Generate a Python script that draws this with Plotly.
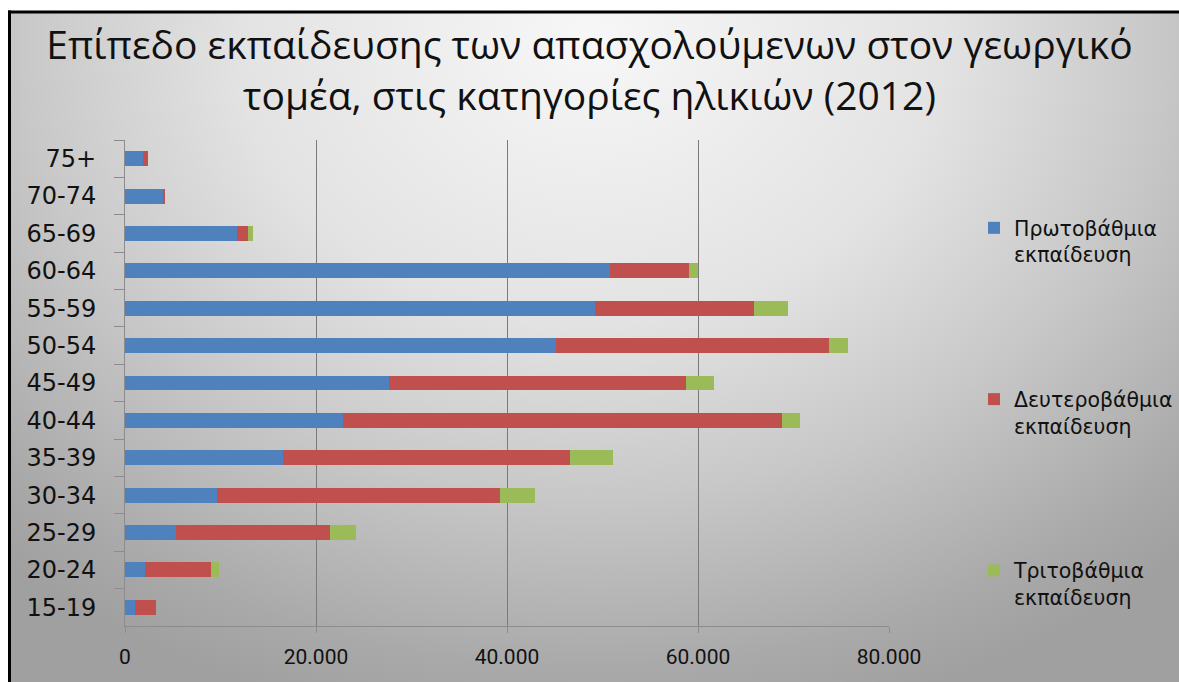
import base64
import plotly.graph_objects as go

W, H = 1179, 682

# Age groups, bottom to top
age_groups = ["15-19", "20-24", "25-29", "30-34", "35-39", "40-44", "45-49",
              "50-54", "55-59", "60-64", "65-69", "70-74", "75+"]

# Employed persons in agriculture by education level (2012)
primary = [1080, 2090, 5330, 9640, 16570, 22810, 27600,
           45130, 49230, 50830, 11700, 4000, 1900]
secondary = [2130, 6920, 16120, 29580, 29990, 45980, 31170,
             28560, 16630, 8260, 1220, 180, 460]
tertiary = [0, 800, 2760, 3730, 4580, 1860, 2920,
            1970, 3570, 960, 480, 0, 0]

series_names = ["Πρωτοβάθμια<br>εκπαίδευση",
                "Δευτεροβάθμια<br>εκπαίδευση",
                "Τριτοβάθμια<br>εκπαίδευση"]
series_colors = ["#4F81BD", "#C0504D", "#9BBB59"]

x_tick_vals = [0, 20000, 40000, 60000, 80000]
x_tick_text = ["0", "20.000", "40.000", "60.000", "80.000"]

title_text = ("Επίπεδο εκπαίδευσης των απασχολούμενων στον γεωργικό<br>"
              "τομέα, στις κατηγορίες ηλικιών (2012)")

# Chart-area background: soft grey radial fill, light at the top centre.
# The image is a little wider than the figure so it always reaches the edge.
BG_W = int(W * 1.05)
svg = f"""<svg xmlns='http://www.w3.org/2000/svg' width='{BG_W}' height='{H}' viewBox='0 0 {BG_W} {H}' preserveAspectRatio='none'>
<defs>
<radialGradient id='g' gradientUnits='userSpaceOnUse' cx='590' cy='40' r='700'
 gradientTransform='translate(590,40) scale(1.25,1) translate(-590,-40)'>
<stop offset='0' stop-color='#f7f7f7'/>
<stop offset='0.4' stop-color='#e3e3e3'/>
<stop offset='0.65' stop-color='#c8c8c8'/>
<stop offset='0.9' stop-color='#a9a9a9'/>
<stop offset='1' stop-color='#a0a0a0'/>
</radialGradient>
</defs>
<rect x='0' y='0' width='{BG_W}' height='{H}' fill='#ffffff'/>
<rect x='9' y='12' width='{BG_W}' height='{H}' fill='url(#g)'/>
</svg>"""
bg_uri = "data:image/svg+xml;base64," + base64.b64encode(svg.encode("utf-8")).decode("ascii")

fig = go.Figure()
for name, vals, color in zip(series_names, [primary, secondary, tertiary], series_colors):
    fig.add_trace(go.Bar(
        y=age_groups, x=vals, name=name, orientation="h",
        marker=dict(color=color, line=dict(width=0)),
        legendgroup=name,
    ))

# Frame of the chart area: top and left edges (the rest runs off the page)
frame = [
    dict(type="line", xref="paper", yref="paper",
         x0=8 / W, x1=1.05, y0=1 - 12 / H, y1=1 - 12 / H,
         line=dict(color="#000000", width=3), layer="above"),
    dict(type="line", xref="paper", yref="paper",
         x0=9.5 / W, x1=9.5 / W, y0=0, y1=1 - 10.5 / H,
         line=dict(color="#000000", width=3), layer="above"),
]

fig.update_layout(
    width=W, height=H,
    autosize=False,
    margin=dict(l=0, r=0, t=0, b=0, autoexpand=False),
    paper_bgcolor="#a9a9a9",
    plot_bgcolor="rgba(0,0,0,0)",
    barmode="stack",
    bargap=0.6,
    images=[dict(source=bg_uri, xref="paper", yref="paper", x=0, y=1,
                 sizex=1.05, sizey=1, sizing="stretch", layer="below",
                 xanchor="left", yanchor="top")],
    title=dict(text=title_text, x=0.5, xanchor="center",
               y=1 - 59 / H, yanchor="middle",
               font=dict(family="Open Sans, sans-serif", size=39, color="#111111")),
    xaxis=dict(
        domain=[125 / W, 889 / W],
        range=[0, 80000],
        tickvals=x_tick_vals, ticktext=x_tick_text,
        showgrid=True, gridcolor="#7a7a7a", gridwidth=1,
        zeroline=False,
        showline=True, linecolor="#8c8c8c", linewidth=1,
        ticks="outside", ticklen=6, tickcolor="#8c8c8c",
        ticklabelstandoff=6,
        automargin=False,
        tickfont=dict(family="Liberation Sans Narrow, Roboto, sans-serif", size=21, color="#111111"),
        fixedrange=True,
    ),
    yaxis=dict(
        domain=[1 - 626 / H, 1 - 140 / H],
        categoryorder="array", categoryarray=age_groups,
        tickson="boundaries",
        ticks="outside", ticklen=10, tickcolor="#8c8c8c",
        showline=True, linecolor="#8c8c8c", linewidth=1,
        showgrid=False, zeroline=False,
        ticklabelstandoff=23,
        automargin=False,
        tickfont=dict(family="DejaVu Sans, sans-serif", size=24, color="#111111"),
        fixedrange=True,
    ),
    legend=dict(
        x=974 / W, xanchor="left",
        y=1 - 208 / H, yanchor="top",
        bgcolor="rgba(0,0,0,0)",
        font=dict(family="DejaVu Sans, sans-serif", size=20.5, color="#111111"),
        traceorder="grouped",
        tracegroupgap=115,
        valign="top",
        itemwidth=30,
    ),
    shapes=frame,
)

# Keep the page exactly one figure in size, without scrollbars
page_css = ("document.documentElement.style.overflow='hidden';"
            "document.body.style.overflow='hidden';"
            "document.body.style.margin='0';")

fig.write_html("out.html", post_script=page_css,
               config={"displayModeBar": False})
